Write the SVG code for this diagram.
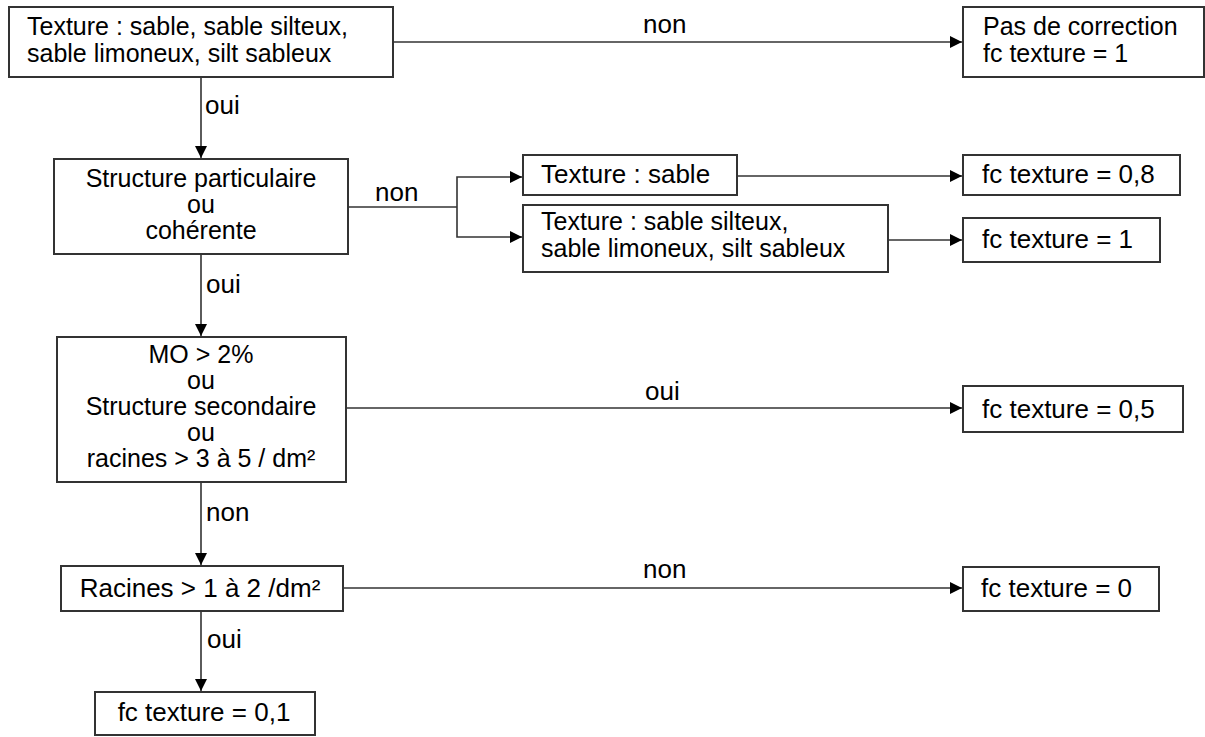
<svg xmlns="http://www.w3.org/2000/svg" width="1205" height="737" viewBox="0 0 1205 737">
<defs>
<marker id="ah" markerUnits="userSpaceOnUse" markerWidth="13" markerHeight="12" refX="12" refY="6" orient="auto">
<path d="M0,0 L12,6 L0,12 z" fill="#000"/>
</marker>
<style>
.box{fill:#fff;stroke:#333;stroke-width:2}
.t{font-family:"Liberation Sans",Arial,sans-serif;font-size:26px;fill:#000}
.s{font-size:25px}
.c{text-anchor:middle}
.ln{fill:none;stroke:#333;stroke-width:1.6}
.ar{marker-end:url(#ah)}
</style>
</defs>
<rect width="1205" height="737" fill="#fff"/>
<g id="connectors">
<line class="ln ar" x1="393" y1="42" x2="962" y2="42"/>
<line class="ln ar" x1="201" y1="77" x2="201" y2="158"/>
<polyline class="ln" points="348,207 457,207"/>
<polyline class="ln ar" points="457,207 457,177 522,177"/>
<polyline class="ln ar" points="457,207 457,237 522,237"/>
<line class="ln ar" x1="737" y1="176" x2="962" y2="176"/>
<line class="ln ar" x1="888" y1="240" x2="962" y2="240"/>
<line class="ln ar" x1="201" y1="254" x2="201" y2="336"/>
<line class="ln ar" x1="346" y1="408" x2="962" y2="408"/>
<line class="ln ar" x1="201" y1="482" x2="201" y2="565"/>
<line class="ln ar" x1="343" y1="588" x2="962" y2="588"/>
<line class="ln ar" x1="201" y1="611" x2="201" y2="691"/>
<text class="t" x="643" y="33">non</text>
<text class="t" x="205" y="114">oui</text>
<text class="t" x="375" y="201">non</text>
<text class="t" x="206" y="293">oui</text>
<text class="t" x="645" y="400">oui</text>
<text class="t" x="206" y="521">non</text>
<text class="t" x="643" y="578">non</text>
<text class="t" x="207" y="648">oui</text>
</g>
<g id="n1">
<rect class="box" x="9" y="7" width="384" height="70"/>
<text class="t s" x="27" y="35">Texture : sable, sable silteux,</text>
<text class="t s" x="27" y="62">sable limoneux, silt sableux</text>
</g>
<g id="n2">
<rect class="box" x="963" y="7" width="241" height="70"/>
<text class="t s" x="983" y="35">Pas de correction</text>
<text class="t s" x="983" y="62">fc texture = 1</text>
</g>
<g id="n3">
<rect class="box" x="54" y="159" width="294" height="95"/>
<text class="t s c" x="201" y="187">Structure particulaire</text>
<text class="t s c" x="201" y="213">ou</text>
<text class="t s c" x="201" y="239">cohérente</text>
</g>
<g id="n4">
<rect class="box" x="523" y="155" width="214" height="40"/>
<text class="t" x="541" y="183">Texture : sable</text>
</g>
<g id="n5">
<rect class="box" x="523" y="205" width="365" height="67"/>
<text class="t s" x="541" y="230">Texture : sable silteux,</text>
<text class="t s" x="541" y="257">sable limoneux, silt sableux</text>
</g>
<g id="n6">
<rect class="box" x="963" y="155" width="217" height="40"/>
<text class="t" x="982" y="183">fc texture = 0,8</text>
</g>
<g id="n7">
<rect class="box" x="963" y="218" width="197" height="44"/>
<text class="t" x="982" y="248">fc texture = 1</text>
</g>
<g id="n8">
<rect class="box" x="57" y="337" width="289" height="145"/>
<text class="t s c" x="201" y="363">MO &gt; 2%</text>
<text class="t s c" x="201" y="389">ou</text>
<text class="t s c" x="201" y="415">Structure secondaire</text>
<text class="t s c" x="201" y="441">ou</text>
<text class="t s c" x="201" y="467">racines &gt; 3 à 5 / dm²</text>
</g>
<g id="n9">
<rect class="box" x="963" y="386" width="220" height="46"/>
<text class="t" x="982" y="418">fc texture = 0,5</text>
</g>
<g id="n10">
<rect class="box" x="61" y="566" width="282" height="45"/>
<text class="t c" x="200" y="597">Racines &gt; 1 à 2 /dm²</text>
</g>
<g id="n11">
<rect class="box" x="963" y="567" width="196" height="44"/>
<text class="t" x="981" y="597">fc texture = 0</text>
</g>
<g id="n12">
<rect class="box" x="95" y="692" width="220" height="43"/>
<text class="t c" x="204" y="721">fc texture = 0,1</text>
</g>
</svg>
